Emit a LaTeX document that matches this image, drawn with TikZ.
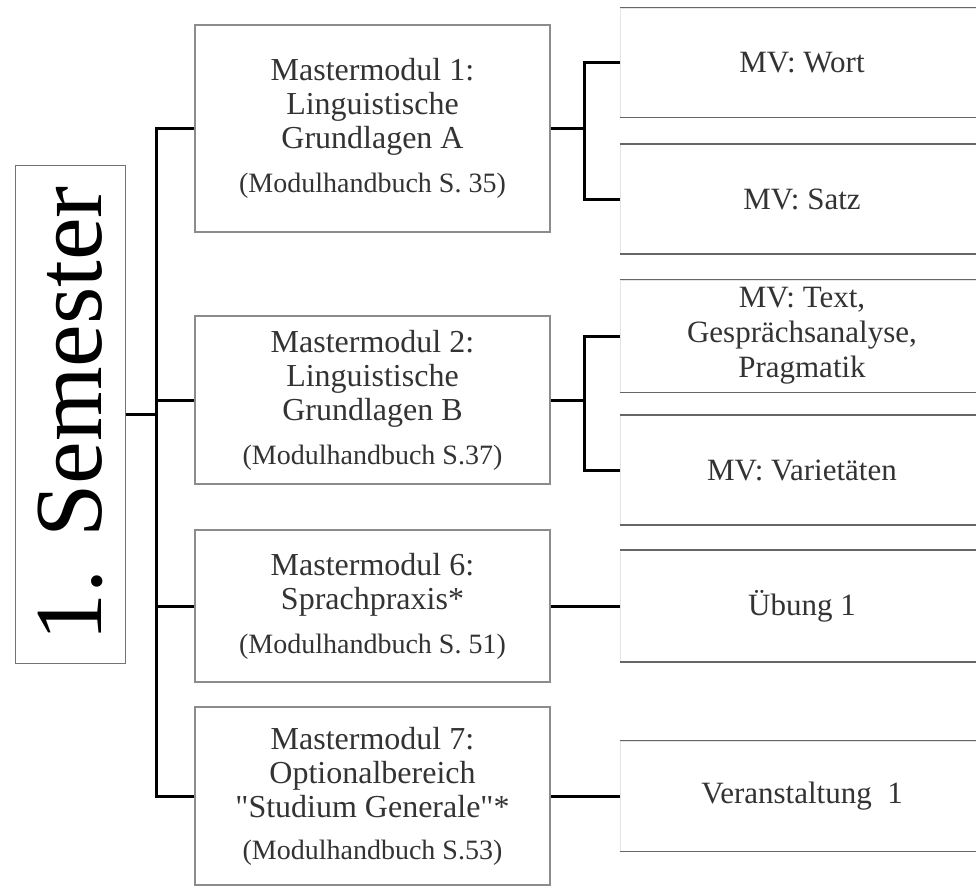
\documentclass[tikz,border=0pt]{standalone}
\usepackage{fontspec}
\setmainfont{Liberation Serif}
\usepackage{tikz}

\newcommand{\hbref}[1]{{\fontsize{28}{30}\selectfont(Modulhandbuch #1)}}

\begin{document}
\begin{tikzpicture}[x=1pt, y=-1pt,
    sem/.style={draw=black!55, line width=1pt, rotate=90, minimum width=498pt, minimum height=110pt, inner sep=0pt, font=\fontsize{96}{100}\selectfont},
    mod/.style={draw=black!45, line width=1.2pt, minimum width=355pt, align=center, text=black!80, inner sep=0pt, font=\fontsize{32}{34}\selectfont},
    lv/.style={draw=black!10, line width=1pt, minimum width=364pt, minimum height=109pt, align=center, text=black!80, inner sep=0pt, font=\fontsize{31}{35}\selectfont},
    conn/.style={line width=3pt}]
    \useasboundingbox (0,0) rectangle (976,887);
    \fill[white] (0,0) rectangle (976,887);

    \node[sem] (sem) at (70,414) {1. Semester};

    \node[mod, minimum height=207pt] (mm1) at (372.5,128.5) {Mastermodul 1:\\ Linguistische\\ Grundlagen A\\[10pt] \hbref{S. 35}};
    \node[mod, minimum height=168pt] (mm2) at (372.5,400) {Mastermodul 2:\\ Linguistische\\ Grundlagen B\\[10pt] \hbref{S.37}};
    \node[mod, minimum height=152pt] (mm6) at (372.5,606) {Mastermodul 6:\\ Sprachpraxis*\\[10pt] \hbref{S. 51}};
    \node[mod, minimum height=178pt] (mm7) at (372.5,796) {Mastermodul 7:\\ Optionalbereich\\ \textquotedbl Studium Generale\textquotedbl*\\[8pt] \hbref{S.53}};

    \node[lv] (wort) at (802,62.5) {MV: Wort};
    \node[lv] (satz) at (802,199) {MV: Satz};
    \node[lv, minimum height=112pt] (pragm) at (802,336) {MV: Text,\\ Gesprächsanalyse,\\ Pragmatik};
    \node[lv] (var) at (802,470) {MV: Varietäten};
    \node[lv, minimum height=111pt] (uebung) at (802,606) {Übung 1};
    \node[lv, minimum height=110pt] (veran) at (802,796) {Veranstaltung\ \ 1};

    % top and bottom rules of the right boxes
    \foreach \n in {wort,satz,pragm,var,uebung,veran}{
        \draw[black!60, line width=1.2pt] (\n.north west) -- (\n.north east);
        \draw[black!60, line width=1.2pt] (\n.south west) -- (\n.south east);
    }

    \coordinate (trunk) at (157,414);
    \draw[conn] (sem.south) -- (trunk);
    \draw[conn] (mm1.west) -- ++(-38,0) |- (mm7.west);
    \draw[conn] (mm2.west) -- ++(-38,0);
    \draw[conn] (mm6.west) -- ++(-38,0);

    \draw[conn] (mm1.east) -- ++(35,0);
    \draw[conn] (wort.west) -- ++(-35,0) |- (satz.west);
    \draw[conn] (mm2.east) -- ++(35,0);
    \draw[conn] (pragm.west) -- ++(-35,0) |- (var.west);
    \draw[conn] (mm6.east) -- (uebung.west);
    \draw[conn] (mm7.east) -- (veran.west);
\end{tikzpicture}
\end{document}
